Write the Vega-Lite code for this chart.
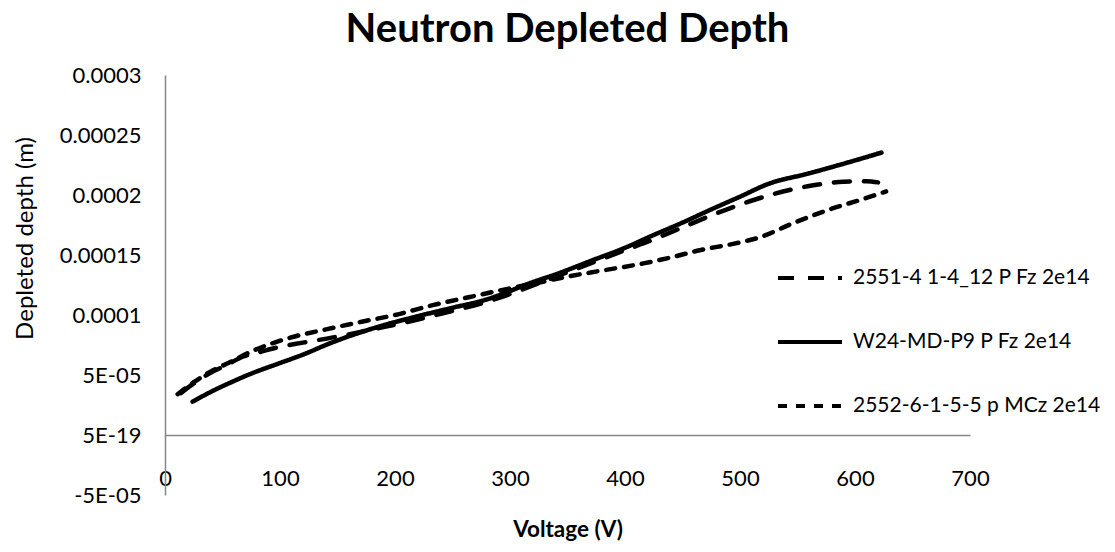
{
  "$schema": "https://vega.github.io/schema/vega-lite/v6.json",
  "width": 805,
  "height": 420,
  "autosize": {"type": "none"},
  "padding": {"left": 165, "top": 75, "right": 145, "bottom": 57},
  "background": "white",
  "title": {
    "text": "Neutron Depleted Depth",
    "font": "Lato",
    "fontSize": 40,
    "fontWeight": "bold",
    "color": "black",
    "anchor": "middle",
    "frame": "group",
    "offset": 14
  },
  "data": {
    "values": [
      {"s": "2551-4 1-4_12 P Fz 2e14", "V": 14, "D": 3.5e-5},
      {"s": "2551-4 1-4_12 P Fz 2e14", "V": 25, "D": 4.3e-5},
      {"s": "2551-4 1-4_12 P Fz 2e14", "V": 40, "D": 5.2e-5},
      {"s": "2551-4 1-4_12 P Fz 2e14", "V": 55, "D": 5.9e-5},
      {"s": "2551-4 1-4_12 P Fz 2e14", "V": 67, "D": 6.5e-5},
      {"s": "2551-4 1-4_12 P Fz 2e14", "V": 80, "D": 6.85e-5},
      {"s": "2551-4 1-4_12 P Fz 2e14", "V": 100, "D": 7.35e-5},
      {"s": "2551-4 1-4_12 P Fz 2e14", "V": 120, "D": 7.7e-5},
      {"s": "2551-4 1-4_12 P Fz 2e14", "V": 150, "D": 8.2e-5},
      {"s": "2551-4 1-4_12 P Fz 2e14", "V": 180, "D": 8.8e-5},
      {"s": "2551-4 1-4_12 P Fz 2e14", "V": 210, "D": 9.4e-5},
      {"s": "2551-4 1-4_12 P Fz 2e14", "V": 246, "D": 1.025e-4},
      {"s": "2551-4 1-4_12 P Fz 2e14", "V": 280, "D": 1.11e-4},
      {"s": "2551-4 1-4_12 P Fz 2e14", "V": 310, "D": 1.21e-4},
      {"s": "2551-4 1-4_12 P Fz 2e14", "V": 340, "D": 1.32e-4},
      {"s": "2551-4 1-4_12 P Fz 2e14", "V": 370, "D": 1.43e-4},
      {"s": "2551-4 1-4_12 P Fz 2e14", "V": 400, "D": 1.54e-4},
      {"s": "2551-4 1-4_12 P Fz 2e14", "V": 425, "D": 1.63e-4},
      {"s": "2551-4 1-4_12 P Fz 2e14", "V": 450, "D": 1.73e-4},
      {"s": "2551-4 1-4_12 P Fz 2e14", "V": 475, "D": 1.83e-4},
      {"s": "2551-4 1-4_12 P Fz 2e14", "V": 500, "D": 1.92e-4},
      {"s": "2551-4 1-4_12 P Fz 2e14", "V": 530, "D": 2.01e-4},
      {"s": "2551-4 1-4_12 P Fz 2e14", "V": 560, "D": 2.075e-4},
      {"s": "2551-4 1-4_12 P Fz 2e14", "V": 590, "D": 2.11e-4},
      {"s": "2551-4 1-4_12 P Fz 2e14", "V": 610, "D": 2.115e-4},
      {"s": "2551-4 1-4_12 P Fz 2e14", "V": 620, "D": 2.105e-4},
      {"s": "W24-MD-P9 P Fz 2e14", "V": 24, "D": 2.78e-5},
      {"s": "W24-MD-P9 P Fz 2e14", "V": 40, "D": 3.6e-5},
      {"s": "W24-MD-P9 P Fz 2e14", "V": 60, "D": 4.5e-5},
      {"s": "W24-MD-P9 P Fz 2e14", "V": 72, "D": 5.0e-5},
      {"s": "W24-MD-P9 P Fz 2e14", "V": 100, "D": 6.0e-5},
      {"s": "W24-MD-P9 P Fz 2e14", "V": 120, "D": 6.7e-5},
      {"s": "W24-MD-P9 P Fz 2e14", "V": 145, "D": 7.7e-5},
      {"s": "W24-MD-P9 P Fz 2e14", "V": 185, "D": 9.0e-5},
      {"s": "W24-MD-P9 P Fz 2e14", "V": 220, "D": 9.9e-5},
      {"s": "W24-MD-P9 P Fz 2e14", "V": 250, "D": 1.06e-4},
      {"s": "W24-MD-P9 P Fz 2e14", "V": 280, "D": 1.13e-4},
      {"s": "W24-MD-P9 P Fz 2e14", "V": 300, "D": 1.2e-4},
      {"s": "W24-MD-P9 P Fz 2e14", "V": 313, "D": 1.25e-4},
      {"s": "W24-MD-P9 P Fz 2e14", "V": 343, "D": 1.35e-4},
      {"s": "W24-MD-P9 P Fz 2e14", "V": 370, "D": 1.45e-4},
      {"s": "W24-MD-P9 P Fz 2e14", "V": 400, "D": 1.56e-4},
      {"s": "W24-MD-P9 P Fz 2e14", "V": 425, "D": 1.667e-4},
      {"s": "W24-MD-P9 P Fz 2e14", "V": 450, "D": 1.77e-4},
      {"s": "W24-MD-P9 P Fz 2e14", "V": 475, "D": 1.88e-4},
      {"s": "W24-MD-P9 P Fz 2e14", "V": 500, "D": 1.986e-4},
      {"s": "W24-MD-P9 P Fz 2e14", "V": 524, "D": 2.09e-4},
      {"s": "W24-MD-P9 P Fz 2e14", "V": 560, "D": 2.18e-4},
      {"s": "W24-MD-P9 P Fz 2e14", "V": 590, "D": 2.26e-4},
      {"s": "W24-MD-P9 P Fz 2e14", "V": 623, "D": 2.353e-4},
      {"s": "2552-6-1-5-5 p MCz 2e14", "V": 11, "D": 3.4e-5},
      {"s": "2552-6-1-5-5 p MCz 2e14", "V": 25, "D": 4.4e-5},
      {"s": "2552-6-1-5-5 p MCz 2e14", "V": 40, "D": 5.3e-5},
      {"s": "2552-6-1-5-5 p MCz 2e14", "V": 55, "D": 6.0e-5},
      {"s": "2552-6-1-5-5 p MCz 2e14", "V": 78, "D": 7.08e-5},
      {"s": "2552-6-1-5-5 p MCz 2e14", "V": 107, "D": 8.06e-5},
      {"s": "2552-6-1-5-5 p MCz 2e14", "V": 140, "D": 8.8e-5},
      {"s": "2552-6-1-5-5 p MCz 2e14", "V": 171, "D": 9.44e-5},
      {"s": "2552-6-1-5-5 p MCz 2e14", "V": 200, "D": 1.0e-4},
      {"s": "2552-6-1-5-5 p MCz 2e14", "V": 232, "D": 1.08e-4},
      {"s": "2552-6-1-5-5 p MCz 2e14", "V": 265, "D": 1.15e-4},
      {"s": "2552-6-1-5-5 p MCz 2e14", "V": 299, "D": 1.22e-4},
      {"s": "2552-6-1-5-5 p MCz 2e14", "V": 330, "D": 1.28e-4},
      {"s": "2552-6-1-5-5 p MCz 2e14", "V": 350, "D": 1.32e-4},
      {"s": "2552-6-1-5-5 p MCz 2e14", "V": 380, "D": 1.37e-4},
      {"s": "2552-6-1-5-5 p MCz 2e14", "V": 416, "D": 1.43e-4},
      {"s": "2552-6-1-5-5 p MCz 2e14", "V": 440, "D": 1.48e-4},
      {"s": "2552-6-1-5-5 p MCz 2e14", "V": 465, "D": 1.54e-4},
      {"s": "2552-6-1-5-5 p MCz 2e14", "V": 495, "D": 1.595e-4},
      {"s": "2552-6-1-5-5 p MCz 2e14", "V": 518, "D": 1.65e-4},
      {"s": "2552-6-1-5-5 p MCz 2e14", "V": 546, "D": 1.764e-4},
      {"s": "2552-6-1-5-5 p MCz 2e14", "V": 581, "D": 1.89e-4},
      {"s": "2552-6-1-5-5 p MCz 2e14", "V": 605, "D": 1.96e-4},
      {"s": "2552-6-1-5-5 p MCz 2e14", "V": 627, "D": 2.03e-4}
    ]
  },
  "mark": {
    "type": "line",
    "color": "black",
    "strokeWidth": 4.5,
    "strokeCap": "round",
    "strokeJoin": "round",
    "interpolate": "monotone"
  },
  "encoding": {
    "x": {
      "field": "V",
      "type": "quantitative",
      "scale": {"domain": [0, 700], "nice": false, "zero": false},
      "axis": {
        "values": [0, 100, 200, 300, 400, 500, 600, 700],
        "grid": false,
        "ticks": false,
        "offset": -60,
        "domainColor": "#868686",
        "domainWidth": 1.5,
        "labelFont": "Lato",
        "labelFontSize": 22,
        "labelColor": "black",
        "labelPadding": 33,
        "labelFlush": false,
        "title": "Voltage (V)",
        "titleFont": "Lato",
        "titleFontSize": 22.5,
        "titleFontWeight": "bold",
        "titleColor": "black",
        "titlePadding": 29
      }
    },
    "y": {
      "field": "D",
      "type": "quantitative",
      "scale": {"domain": [-0.00005, 0.0003], "nice": false, "zero": false},
      "axis": {
        "values": [-0.00005, 0, 0.00005, 0.0001, 0.00015, 0.0002, 0.00025, 0.0003],
        "labelExpr": "datum.value < -0.00001 ? '-5E-05' : (datum.value < 0.00001 ? '5E-19' : (datum.value < 0.00007 ? '5E-05' : format(datum.value, '.5~f')))",
        "grid": false,
        "ticks": false,
        "domainColor": "#868686",
        "domainWidth": 1.5,
        "labelFont": "Lato",
        "labelFontSize": 22,
        "labelColor": "black",
        "labelPadding": 24,
        "labelFlush": false,
        "title": "Depleted depth (m)",
        "titleFont": "Lato",
        "titleFontSize": 24,
        "titleFontWeight": "normal",
        "titleColor": "black",
        "titleX": -140,
        "titleY": 163,
        "titleAlign": "center",
        "titleBaseline": "middle"
      }
    },
    "strokeDash": {
      "field": "s",
      "type": "nominal",
      "scale": {
        "domain": ["2551-4 1-4_12 P Fz 2e14", "W24-MD-P9 P Fz 2e14", "2552-6-1-5-5 p MCz 2e14"],
        "range": [[16, 14], [1, 0], [9, 9]]
      },
      "legend": {
        "title": null,
        "orient": "none",
        "legendX": 611,
        "legendY": 169,
        "padding": 0,
        "symbolType": "stroke",
        "symbolSize": 4096,
        "symbolStrokeWidth": 4,
        "symbolStrokeColor": "black",
        "labelFont": "Lato",
        "labelFontSize": 21,
        "labelColor": "black",
        "labelOffset": 9,
        "rowPadding": 20,
        "labelLimit": 400
      }
    }
  },
  "config": {"view": {"stroke": null}}
}
